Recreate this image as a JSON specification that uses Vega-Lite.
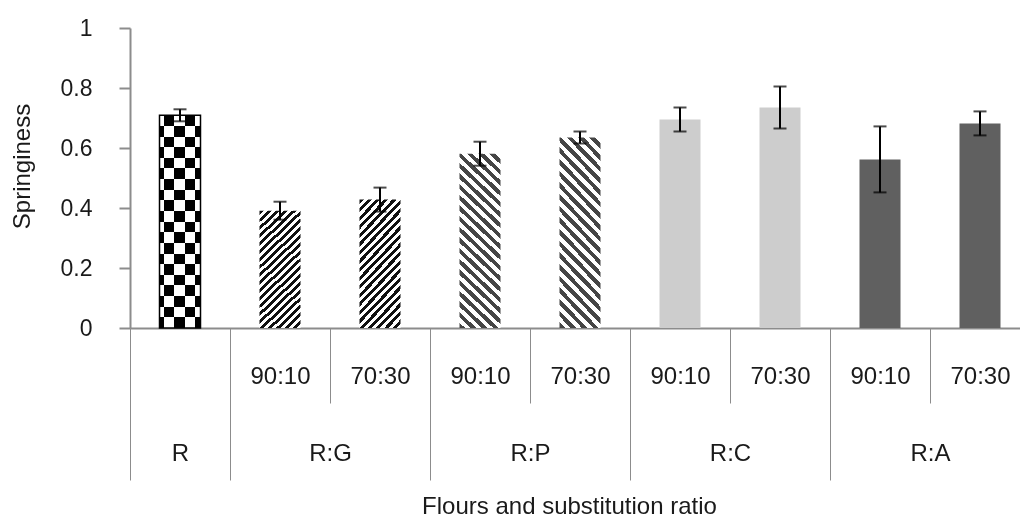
{
  "$schema": "https://vega.github.io/schema/vega-lite/v6.json",
  "width": 890,
  "height": 300,
  "autosize": {"type": "none"},
  "padding": {"left": 130, "top": 28, "right": 0, "bottom": 203},
  "background": "#ffffff",
  "config": {
    "view": {"stroke": null},
    "axis": {"labelFont": "Liberation Sans", "titleFont": "Liberation Sans", "labelColor": "#1a1a1a", "titleColor": "#1a1a1a", "titleFontWeight": "normal"}
  },
  "data": {
    "values": [
      {"key": "R", "flour": "R", "ratio": "", "mean": 0.709, "sd": 0.02},
      {"key": "R:G 90:10", "flour": "R:G", "ratio": "90:10", "mean": 0.391, "sd": 0.03},
      {"key": "R:G 70:30", "flour": "R:G", "ratio": "70:30", "mean": 0.428, "sd": 0.04},
      {"key": "R:P 90:10", "flour": "R:P", "ratio": "90:10", "mean": 0.581, "sd": 0.04},
      {"key": "R:P 70:30", "flour": "R:P", "ratio": "70:30", "mean": 0.635, "sd": 0.02},
      {"key": "R:C 90:10", "flour": "R:C", "ratio": "90:10", "mean": 0.695, "sd": 0.04},
      {"key": "R:C 70:30", "flour": "R:C", "ratio": "70:30", "mean": 0.735, "sd": 0.07},
      {"key": "R:A 90:10", "flour": "R:A", "ratio": "90:10", "mean": 0.562, "sd": 0.11},
      {"key": "R:A 70:30", "flour": "R:A", "ratio": "70:30", "mean": 0.682, "sd": 0.04}
    ]
  },
  "resolve": {"axis": {"x": "independent"}},
  "layer": [
    {
      "transform": [{"filter": "datum.flour == 'R'"}],
      "mark": {
        "type": "bar",
        "width": {"band": 0.41},
        "fill": {"gradient": "linear", "x1": 0, "y1": 0, "x2": 1, "y2": 0, "stops": [
          {"offset": 0, "color": "#ffffff"}, {"offset": 0.098, "color": "#ffffff"},
          {"offset": 0.098, "color": "#000000"}, {"offset": 0.354, "color": "#000000"},
          {"offset": 0.354, "color": "#ffffff"}, {"offset": 0.622, "color": "#ffffff"},
          {"offset": 0.622, "color": "#000000"}, {"offset": 0.878, "color": "#000000"},
          {"offset": 0.878, "color": "#ffffff"}, {"offset": 1, "color": "#ffffff"}
        ]}
      },
      "encoding": {
        "x": {
          "field": "key", "type": "nominal", "sort": null,
          "scale": {"domain": ["R", "R:G 90:10", "R:G 70:30", "R:P 90:10", "R:P 70:30", "R:C 90:10", "R:C 70:30", "R:A 90:10", "R:A 70:30"], "range": [0, 900], "paddingInner": 0, "paddingOuter": 0},
          "axis": {
            "orient": "bottom",
            "title": null,
            "tickBand": "extent",
            "tickSize": 75, "tickColor": "#8c8c8c", "tickWidth": 1,
            "domain": true, "domainColor": "#8c8c8c", "domainWidth": 2,
            "labelExpr": "isString(datum.value) && indexof(datum.value, ' ') > 0 ? substring(datum.value, indexof(datum.value, ' ') + 1) : ''",
            "labelAngle": 0, "labelBaseline": "middle", "labelPadding": -27, "labelFontSize": 24, "labelOverlap": false
          }
        },
        "y": {
          "field": "mean", "type": "quantitative", "title": "Springiness",
          "scale": {"domain": [0, 1], "nice": false},
          "axis": {
            "title": "Springiness", "values": [0, 0.2, 0.4, 0.6, 0.8, 1], "format": "~g", "grid": false,
            "domainColor": "#8c8c8c", "domainWidth": 2, "tickColor": "#8c8c8c", "tickWidth": 2, "tickSize": 11,
            "labelFontSize": 23, "labelPadding": 27, "labelFlush": false,
            "titleFontSize": 24, "titleX": -108, "titleY": 138, "titleBaseline": "middle", "titleAnchor": "middle"
          }
        }
      }
    },
    {
      "transform": [{"filter": "datum.flour == 'R'"}],
      "mark": {
        "type": "bar",
        "width": {"band": 0.41},
        "blend": "difference",
        "fill": {"gradient": "linear", "x1": 0, "y1": 0, "x2": 0, "y2": 1, "stops": [
          {"offset": 0, "color": "rgba(255,255,255,0)"}, {"offset": 0.05, "color": "rgba(255,255,255,0)"},
          {"offset": 0.05, "color": "#ffffff"}, {"offset": 0.1, "color": "#ffffff"},
          {"offset": 0.1, "color": "rgba(255,255,255,0)"}, {"offset": 0.15, "color": "rgba(255,255,255,0)"},
          {"offset": 0.15, "color": "#ffffff"}, {"offset": 0.2, "color": "#ffffff"},
          {"offset": 0.2, "color": "rgba(255,255,255,0)"}, {"offset": 0.25, "color": "rgba(255,255,255,0)"},
          {"offset": 0.25, "color": "#ffffff"}, {"offset": 0.3, "color": "#ffffff"},
          {"offset": 0.3, "color": "rgba(255,255,255,0)"}, {"offset": 0.35, "color": "rgba(255,255,255,0)"},
          {"offset": 0.35, "color": "#ffffff"}, {"offset": 0.4, "color": "#ffffff"},
          {"offset": 0.4, "color": "rgba(255,255,255,0)"}, {"offset": 0.45, "color": "rgba(255,255,255,0)"},
          {"offset": 0.45, "color": "#ffffff"}, {"offset": 0.5, "color": "#ffffff"},
          {"offset": 0.5, "color": "rgba(255,255,255,0)"}, {"offset": 0.55, "color": "rgba(255,255,255,0)"},
          {"offset": 0.55, "color": "#ffffff"}, {"offset": 0.6, "color": "#ffffff"},
          {"offset": 0.6, "color": "rgba(255,255,255,0)"}, {"offset": 0.65, "color": "rgba(255,255,255,0)"},
          {"offset": 0.65, "color": "#ffffff"}, {"offset": 0.7, "color": "#ffffff"},
          {"offset": 0.7, "color": "rgba(255,255,255,0)"}, {"offset": 0.75, "color": "rgba(255,255,255,0)"},
          {"offset": 0.75, "color": "#ffffff"}, {"offset": 0.8, "color": "#ffffff"},
          {"offset": 0.8, "color": "rgba(255,255,255,0)"}, {"offset": 0.85, "color": "rgba(255,255,255,0)"},
          {"offset": 0.85, "color": "#ffffff"}, {"offset": 0.9, "color": "#ffffff"},
          {"offset": 0.9, "color": "rgba(255,255,255,0)"}, {"offset": 0.95, "color": "rgba(255,255,255,0)"},
          {"offset": 0.95, "color": "#ffffff"}, {"offset": 1, "color": "#ffffff"}
        ]}
      },
      "encoding": {
        "x": {"field": "key", "type": "nominal", "sort": null, "axis": null},
        "y": {"field": "mean", "type": "quantitative", "title": "Springiness"}
      }
    },
    {
      "transform": [{"filter": "datum.flour == 'R'"}],
      "mark": {"type": "bar", "width": {"band": 0.41}, "fillOpacity": 0, "stroke": "#000000", "strokeWidth": 1.5},
      "encoding": {
        "x": {"field": "key", "type": "nominal", "sort": null, "axis": null},
        "y": {"field": "mean", "type": "quantitative", "title": "Springiness"}
      }
    },
    {
      "transform": [{"filter": "datum.flour == 'R:G'"}],
      "mark": {
        "type": "bar",
        "width": {"band": 0.41},
        "fill": {"gradient": "linear", "x1": 0, "y1": 0, "x2": 0.4, "y2": 1.2, "stops": [
          {"offset": 0, "color": "#111111"}, {"offset": 0.025, "color": "#111111"}, {"offset": 0.025, "color": "#ffffff"}, {"offset": 0.05, "color": "#ffffff"},
          {"offset": 0.05, "color": "#111111"}, {"offset": 0.075, "color": "#111111"}, {"offset": 0.075, "color": "#ffffff"}, {"offset": 0.1, "color": "#ffffff"},
          {"offset": 0.1, "color": "#111111"}, {"offset": 0.125, "color": "#111111"}, {"offset": 0.125, "color": "#ffffff"}, {"offset": 0.15, "color": "#ffffff"},
          {"offset": 0.15, "color": "#111111"}, {"offset": 0.175, "color": "#111111"}, {"offset": 0.175, "color": "#ffffff"}, {"offset": 0.2, "color": "#ffffff"},
          {"offset": 0.2, "color": "#111111"}, {"offset": 0.225, "color": "#111111"}, {"offset": 0.225, "color": "#ffffff"}, {"offset": 0.25, "color": "#ffffff"},
          {"offset": 0.25, "color": "#111111"}, {"offset": 0.275, "color": "#111111"}, {"offset": 0.275, "color": "#ffffff"}, {"offset": 0.3, "color": "#ffffff"},
          {"offset": 0.3, "color": "#111111"}, {"offset": 0.325, "color": "#111111"}, {"offset": 0.325, "color": "#ffffff"}, {"offset": 0.35, "color": "#ffffff"},
          {"offset": 0.35, "color": "#111111"}, {"offset": 0.375, "color": "#111111"}, {"offset": 0.375, "color": "#ffffff"}, {"offset": 0.4, "color": "#ffffff"},
          {"offset": 0.4, "color": "#111111"}, {"offset": 0.425, "color": "#111111"}, {"offset": 0.425, "color": "#ffffff"}, {"offset": 0.45, "color": "#ffffff"},
          {"offset": 0.45, "color": "#111111"}, {"offset": 0.475, "color": "#111111"}, {"offset": 0.475, "color": "#ffffff"}, {"offset": 0.5, "color": "#ffffff"},
          {"offset": 0.5, "color": "#111111"}, {"offset": 0.525, "color": "#111111"}, {"offset": 0.525, "color": "#ffffff"}, {"offset": 0.55, "color": "#ffffff"},
          {"offset": 0.55, "color": "#111111"}, {"offset": 0.575, "color": "#111111"}, {"offset": 0.575, "color": "#ffffff"}, {"offset": 0.6, "color": "#ffffff"},
          {"offset": 0.6, "color": "#111111"}, {"offset": 0.625, "color": "#111111"}, {"offset": 0.625, "color": "#ffffff"}, {"offset": 0.65, "color": "#ffffff"},
          {"offset": 0.65, "color": "#111111"}, {"offset": 0.675, "color": "#111111"}, {"offset": 0.675, "color": "#ffffff"}, {"offset": 0.7, "color": "#ffffff"},
          {"offset": 0.7, "color": "#111111"}, {"offset": 0.725, "color": "#111111"}, {"offset": 0.725, "color": "#ffffff"}, {"offset": 0.75, "color": "#ffffff"},
          {"offset": 0.75, "color": "#111111"}, {"offset": 0.775, "color": "#111111"}, {"offset": 0.775, "color": "#ffffff"}, {"offset": 0.8, "color": "#ffffff"},
          {"offset": 0.8, "color": "#111111"}, {"offset": 0.825, "color": "#111111"}, {"offset": 0.825, "color": "#ffffff"}, {"offset": 0.85, "color": "#ffffff"},
          {"offset": 0.85, "color": "#111111"}, {"offset": 0.875, "color": "#111111"}, {"offset": 0.875, "color": "#ffffff"}, {"offset": 0.9, "color": "#ffffff"},
          {"offset": 0.9, "color": "#111111"}, {"offset": 0.925, "color": "#111111"}, {"offset": 0.925, "color": "#ffffff"}, {"offset": 0.95, "color": "#ffffff"},
          {"offset": 0.95, "color": "#111111"}, {"offset": 0.975, "color": "#111111"}, {"offset": 0.975, "color": "#ffffff"}, {"offset": 1, "color": "#ffffff"}
        ]}
      },
      "encoding": {
        "x": {
          "field": "key", "type": "nominal", "sort": null,
          "axis": {
            "orient": "bottom",
            "title": "Flours and substitution ratio",
            "tickBand": "extent",
            "tickSize": 152, "tickColor": "#8c8c8c", "tickWidth": 1,
            "tickOpacity": {"condition": {"test": "!isString(datum.value) || datum.value == 'R' || indexof(datum.value, '70:30') > 0", "value": 1}, "value": 0},
            "domain": false,
            "labelExpr": "datum.value == 'R' ? 'R' : (isString(datum.value) && indexof(datum.value, '90:10') > 0 ? substring(datum.value, 0, indexof(datum.value, ' ')) : '')",
            "labelOffset": {"condition": {"test": "datum.value == 'R'", "value": 0}, "value": 50},
            "labelAngle": 0, "labelBaseline": "middle", "labelPadding": -27, "labelFontSize": 24, "labelOverlap": false,
            "titleFontSize": 24, "titlePadding": 14, "titleX": 439, "titleAlign": "center"
          }
        },
        "y": {"field": "mean", "type": "quantitative", "title": "Springiness"}
      }
    },
    {
      "transform": [{"filter": "datum.flour == 'R:P'"}],
      "mark": {
        "type": "bar",
        "width": {"band": 0.41},
        "fill": {"gradient": "linear", "x1": 0, "y1": 1, "x2": 0.261, "y2": -0.1655, "stops": [
          {"offset": 0, "color": "#454545"}, {"offset": 0.025, "color": "#454545"}, {"offset": 0.025, "color": "#ffffff"}, {"offset": 0.05, "color": "#ffffff"},
          {"offset": 0.05, "color": "#454545"}, {"offset": 0.075, "color": "#454545"}, {"offset": 0.075, "color": "#ffffff"}, {"offset": 0.1, "color": "#ffffff"},
          {"offset": 0.1, "color": "#454545"}, {"offset": 0.125, "color": "#454545"}, {"offset": 0.125, "color": "#ffffff"}, {"offset": 0.15, "color": "#ffffff"},
          {"offset": 0.15, "color": "#454545"}, {"offset": 0.175, "color": "#454545"}, {"offset": 0.175, "color": "#ffffff"}, {"offset": 0.2, "color": "#ffffff"},
          {"offset": 0.2, "color": "#454545"}, {"offset": 0.225, "color": "#454545"}, {"offset": 0.225, "color": "#ffffff"}, {"offset": 0.25, "color": "#ffffff"},
          {"offset": 0.25, "color": "#454545"}, {"offset": 0.275, "color": "#454545"}, {"offset": 0.275, "color": "#ffffff"}, {"offset": 0.3, "color": "#ffffff"},
          {"offset": 0.3, "color": "#454545"}, {"offset": 0.325, "color": "#454545"}, {"offset": 0.325, "color": "#ffffff"}, {"offset": 0.35, "color": "#ffffff"},
          {"offset": 0.35, "color": "#454545"}, {"offset": 0.375, "color": "#454545"}, {"offset": 0.375, "color": "#ffffff"}, {"offset": 0.4, "color": "#ffffff"},
          {"offset": 0.4, "color": "#454545"}, {"offset": 0.425, "color": "#454545"}, {"offset": 0.425, "color": "#ffffff"}, {"offset": 0.45, "color": "#ffffff"},
          {"offset": 0.45, "color": "#454545"}, {"offset": 0.475, "color": "#454545"}, {"offset": 0.475, "color": "#ffffff"}, {"offset": 0.5, "color": "#ffffff"},
          {"offset": 0.5, "color": "#454545"}, {"offset": 0.525, "color": "#454545"}, {"offset": 0.525, "color": "#ffffff"}, {"offset": 0.55, "color": "#ffffff"},
          {"offset": 0.55, "color": "#454545"}, {"offset": 0.575, "color": "#454545"}, {"offset": 0.575, "color": "#ffffff"}, {"offset": 0.6, "color": "#ffffff"},
          {"offset": 0.6, "color": "#454545"}, {"offset": 0.625, "color": "#454545"}, {"offset": 0.625, "color": "#ffffff"}, {"offset": 0.65, "color": "#ffffff"},
          {"offset": 0.65, "color": "#454545"}, {"offset": 0.675, "color": "#454545"}, {"offset": 0.675, "color": "#ffffff"}, {"offset": 0.7, "color": "#ffffff"},
          {"offset": 0.7, "color": "#454545"}, {"offset": 0.725, "color": "#454545"}, {"offset": 0.725, "color": "#ffffff"}, {"offset": 0.75, "color": "#ffffff"},
          {"offset": 0.75, "color": "#454545"}, {"offset": 0.775, "color": "#454545"}, {"offset": 0.775, "color": "#ffffff"}, {"offset": 0.8, "color": "#ffffff"},
          {"offset": 0.8, "color": "#454545"}, {"offset": 0.825, "color": "#454545"}, {"offset": 0.825, "color": "#ffffff"}, {"offset": 0.85, "color": "#ffffff"},
          {"offset": 0.85, "color": "#454545"}, {"offset": 0.875, "color": "#454545"}, {"offset": 0.875, "color": "#ffffff"}, {"offset": 0.9, "color": "#ffffff"},
          {"offset": 0.9, "color": "#454545"}, {"offset": 0.925, "color": "#454545"}, {"offset": 0.925, "color": "#ffffff"}, {"offset": 0.95, "color": "#ffffff"},
          {"offset": 0.95, "color": "#454545"}, {"offset": 0.975, "color": "#454545"}, {"offset": 0.975, "color": "#ffffff"}, {"offset": 1, "color": "#ffffff"}
        ]}
      },
      "encoding": {
        "x": {"field": "key", "type": "nominal", "sort": null, "axis": null},
        "y": {"field": "mean", "type": "quantitative", "title": "Springiness"}
      }
    },
    {
      "transform": [{"filter": "datum.flour == 'R:C'"}],
      "mark": {"type": "bar", "width": {"band": 0.41}, "fill": "#cdcdcd"},
      "encoding": {
        "x": {"field": "key", "type": "nominal", "sort": null, "axis": null},
        "y": {"field": "mean", "type": "quantitative", "title": "Springiness"}
      }
    },
    {
      "transform": [{"filter": "datum.flour == 'R:A'"}],
      "mark": {"type": "bar", "width": {"band": 0.41}, "fill": "#606060"},
      "encoding": {
        "x": {"field": "key", "type": "nominal", "sort": null, "axis": null},
        "y": {"field": "mean", "type": "quantitative", "title": "Springiness"}
      }
    },
    {
      "mark": {"type": "errorbar", "ticks": true, "size": 13, "thickness": 2, "color": "#000000"},
      "encoding": {
        "x": {"field": "key", "type": "nominal", "sort": null, "axis": null},
        "y": {"field": "mean", "type": "quantitative", "title": "Springiness"},
        "yError": {"field": "sd"}
      }
    }
  ]
}
